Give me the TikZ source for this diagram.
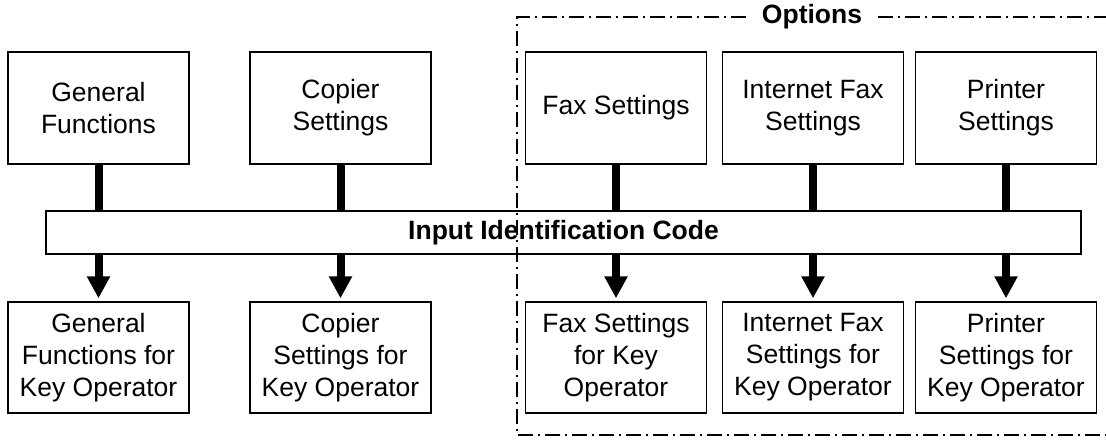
\documentclass[tikz,border=0pt]{standalone}
\usepackage{fontspec}
\setmainfont{Liberation Sans}
\usetikzlibrary{arrows.meta}
\begin{document}
\begin{tikzpicture}[x=0.5pt, y=-0.5pt,
    every node/.style={font=\fontsize{13.25}{16}\selectfont},
    setbox/.style={draw, line width=0.7pt, align=center, inner sep=0pt,
      minimum width=90.5pt, minimum height=56pt},
    codebar/.style={draw, line width=0.7pt, inner sep=0pt,
      minimum width=517.5pt, minimum height=21.5pt,
      font=\fontsize{13.25}{16}\selectfont\bfseries},
    stem/.style={line width=4pt},
    feed/.style={line width=4pt, -{Triangle[width=11pt, length=11pt]}, shorten >=1.5pt},
    optframe/.style={line width=1pt, dash pattern=on 7.5pt off 2.5pt on 1pt off 2.5pt}]

    \useasboundingbox (0,0) rectangle (1106,439);

    % options frame
    \node[font=\fontsize{13.25}{16}\selectfont\bfseries, inner xsep=8pt] (optlabel) at (812,17) {Options};
    \coordinate (frameNW) at (517,17);
    \coordinate (frameSE) at (1112,435);
    \draw[optframe] (optlabel.west) -- (frameNW) -- (frameNW |- frameSE) -- (frameSE);
    \draw[optframe] (optlabel.east) -- (frameSE |- optlabel.east);

    % settings (top row)
    \node[setbox] (genfn) at (98.5,108) {General\\Functions};
    \node[setbox] (copier) at (340.5,108) {Copier\\Settings};
    \node[setbox] (fax) at (616,108) {Fax Settings};
    \node[setbox] (ifax) at (813,108) {Internet Fax\\Settings};
    \node[setbox] (printer) at (1006,108) {Printer\\Settings};

    % identification code
    \node[codebar] (idcode) at (563.5,232.5) {Input Identification Code};

    % key operator settings (bottom row)
    \node[setbox, minimum height=55.5pt] (genfn-key) at (98.5,357.5) {General\\Functions for\\Key Operator};
    \node[setbox, minimum height=55.5pt] (copier-key) at (340.5,357.5) {Copier\\Settings for\\Key Operator};
    \node[setbox, minimum height=55.5pt] (fax-key) at (616,357.5) {Fax Settings\\for Key\\Operator};
    \node[setbox, minimum height=55.5pt] (ifax-key) at (813,357.5) {Internet Fax\\Settings for\\Key Operator};
    \node[setbox, minimum height=55.5pt] (printer-key) at (1006,357.5) {Printer\\Settings for\\Key Operator};

    % connectors
    \foreach \n in {genfn, copier, fax, ifax, printer} {
      \draw[stem] (\n.south) -- (\n.south |- idcode.north);
      \draw[feed] (\n.south |- idcode.south) -- (\n-key.north);
    }

  \end{tikzpicture}
\end{document}
